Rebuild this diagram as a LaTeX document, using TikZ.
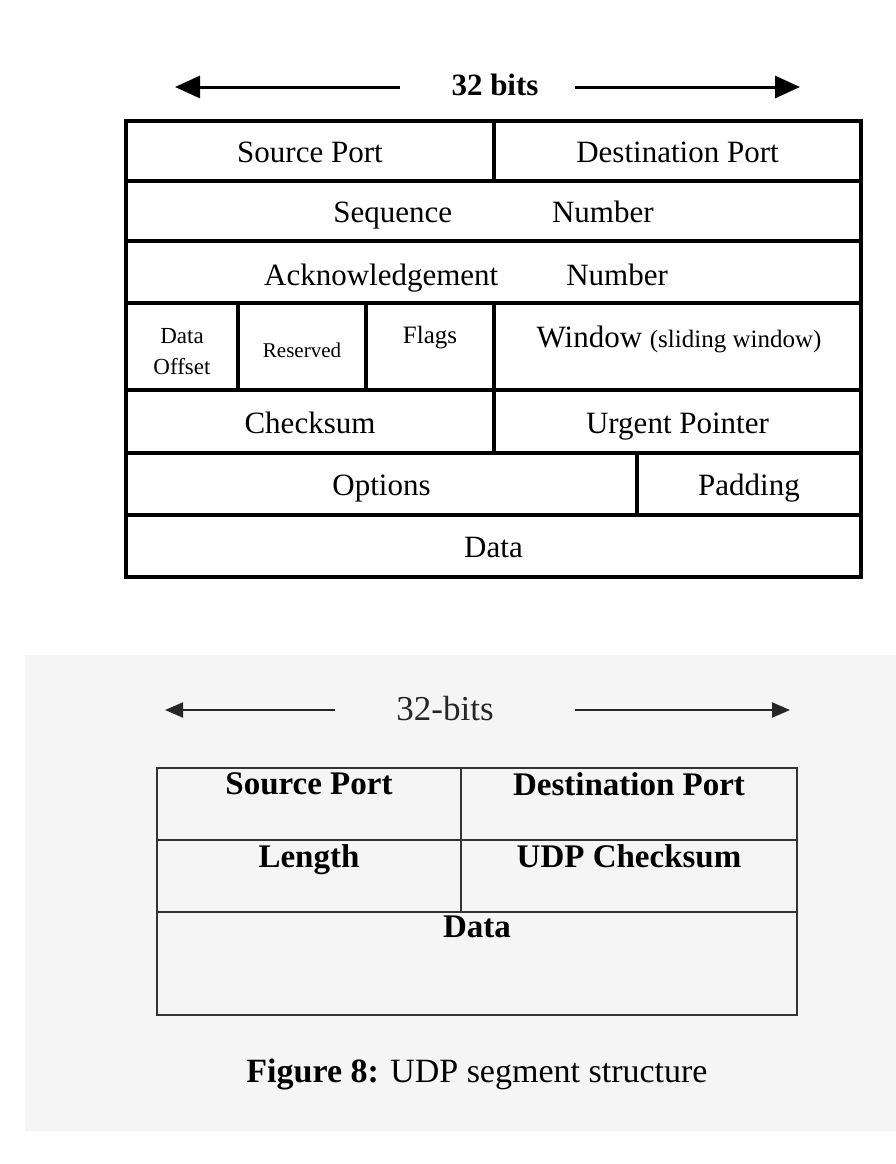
\documentclass[tikz,border=0pt]{standalone}
\usepackage{fontspec}
\setmainfont{Liberation Serif}
\usepackage{tikz}
\usetikzlibrary{arrows.meta,positioning}

\begin{document}
\begin{tikzpicture}[x=1pt,y=-1pt]
% Styles
\tikzset{
    tcpcell/.style={draw,line width=3.5pt,inner sep=0pt,font=\fontsize{31}{34}\selectfont,
        text height=27pt,text depth=4pt},
    tcptext/.style={inner sep=0pt,align=center,anchor=base},
    tcparrow/.style={line width=3pt,-{Triangle[length=25pt,width=22pt]}},
    udpcell/.style={draw=black!80,line width=1.8pt,inner sep=0pt},
    udptext/.style={inner sep=0pt,font=\fontsize{33}{36}\selectfont\bfseries},
    udparrow/.style={line width=2pt,draw=black!85,-{Triangle[length=18pt,width=15pt]}}
}
\useasboundingbox (0,0) rectangle (896,1164);
\fill[black!4] (25,655) rectangle (896,1131);

% TCP header
\node[tcptext,font=\fontsize{31}{34}\selectfont\bfseries] (TCP-BITS) at (495,95){32 bits};
\coordinate (TCP-L0) at (400,87);
\coordinate (TCP-L1) at (175,87);
\coordinate (TCP-R0) at (575,87);
\coordinate (TCP-R1) at (800,87);
\draw[tcparrow] (TCP-L0) -- (TCP-L1);
\draw[tcparrow] (TCP-R0) -- (TCP-R1);

\node[tcpcell,minimum width=368pt,minimum height=60pt] (TCP-SP) at (310,151){Source Port};
\node[tcpcell,minimum width=367pt,minimum height=60pt] (TCP-DP) at (677.5,151){Destination Port};
\node[tcpcell,minimum width=735pt,minimum height=60pt] (TCP-SEQ) at (493.5,211){Sequence\hspace{100pt}Number};
\node[tcpcell,minimum width=735pt,minimum height=62pt] (TCP-ACK) at (493.5,272){};
\node[tcpcell,minimum width=112pt,minimum height=87pt] (TCP-DO) at (182,346.5){};
\node[tcpcell,minimum width=128pt,minimum height=87pt] (TCP-RES) at (302,346.5){};
\node[tcpcell,minimum width=128pt,minimum height=87pt] (TCP-FLG) at (430,346.5){};
\node[tcpcell,minimum width=367pt,minimum height=87pt] (TCP-WIN) at (677.5,346.5){};
\node[tcpcell,minimum width=368pt,minimum height=63pt] (TCP-CHK) at (310,421.5){Checksum};
\node[tcpcell,minimum width=367pt,minimum height=63pt] (TCP-URG) at (677.5,421.5){Urgent Pointer};
\node[tcpcell,minimum width=511pt,minimum height=62pt] (TCP-OPT) at (381.5,484){Options};
\node[tcpcell,minimum width=224pt,minimum height=62pt] (TCP-PAD) at (749,484){Padding};
\node[tcpcell,minimum width=735pt,minimum height=62pt] (TCP-DATA) at (493.5,546){Data};

\node[tcptext,font=\fontsize{31}{34}\selectfont] (ACK-TXT) at (466,285){Acknowledgement\hspace{68pt}Number};
\node[tcptext,font=\fontsize{23}{31}\selectfont] (DO-TXT) at (182,374){Data\\Offset};
\node[tcptext,font=\fontsize{21}{24}\selectfont] (RES-TXT) at (302,357){Reserved};
\node[tcptext,font=\fontsize{25}{30}\selectfont] (FLG-TXT) at (430,343){Flags};
\node[tcptext,font=\fontsize{31}{34}\selectfont] (WIN-TXT) at (679,347){Window {\fontsize{25}{30}\selectfont(sliding window)}};

% UDP header
\node[tcptext,font=\fontsize{35}{38}\selectfont,text=black!85] (UDP-BITS) at (445,720){32-bits};
\coordinate (UDP-L0) at (335,710);
\coordinate (UDP-L1) at (165,710);
\coordinate (UDP-R0) at (575,710);
\coordinate (UDP-R1) at (790,710);
\draw[udparrow] (UDP-L0) -- (UDP-L1);
\draw[udparrow] (UDP-R0) -- (UDP-R1);

\node[udpcell,minimum width=304pt,minimum height=72pt] (UDP-SP) at (309,804){};
\node[udpcell,minimum width=336pt,minimum height=72pt] (UDP-DP) at (629,804){};
\node[udpcell,minimum width=304pt,minimum height=72pt] (UDP-LEN) at (309,876){};
\node[udpcell,minimum width=336pt,minimum height=72pt] (UDP-CHK) at (629,876){};
\node[udpcell,minimum width=640pt,minimum height=103pt] (UDP-DATA) at (477,963.5){};

\node[udptext,below=5pt of UDP-SP.north] (SP-TXT){Source Port};
\node[udptext,below=5pt of UDP-DP.north] (DP-TXT){Destination Port};
\node[udptext,below=5pt of UDP-LEN.north] (LEN-TXT){Length};
\node[udptext,below=5pt of UDP-CHK.north] (CHK-TXT){UDP Checksum};
\node[udptext,below=5pt of UDP-DATA.north] (DATA-TXT){Data};

\node[tcptext,font=\fontsize{34}{38}\selectfont] (CAPTION) at (477,1082){\textbf{Figure 8:} UDP segment structure};
\end{tikzpicture}
\end{document}
